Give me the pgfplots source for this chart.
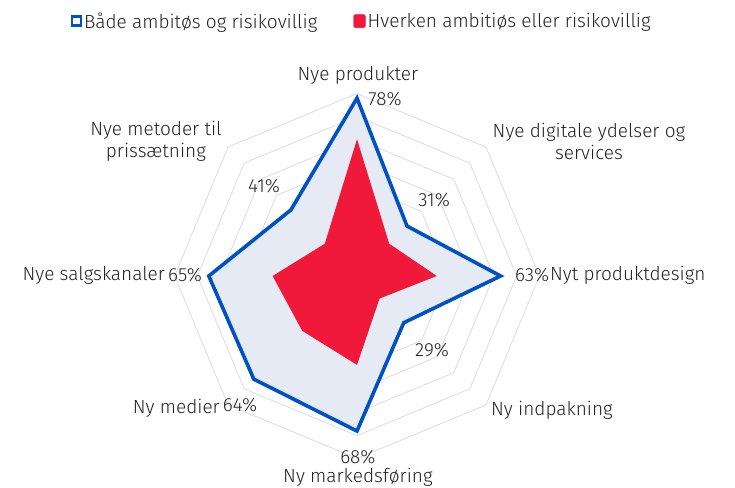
\documentclass[border=0pt]{standalone}
\usepackage{pgfplots}
\pgfplotsset{compat=1.18}
\usepgfplotslibrary{polar}
\usepackage{fontspec}
\setmainfont{Fira Sans Light}
\definecolor{bl}{HTML}{0052C4}
\definecolor{rd}{HTML}{F0193A}
\definecolor{fillb}{HTML}{E6EAF4}
\definecolor{grd}{HTML}{DCDCDC}
\definecolor{txt}{HTML}{222222}
\begin{document}
\begin{tikzpicture}[font=\fontsize{19}{22}\selectfont]
\begin{axis}[
  x=2.28pt, y=2.28pt,
  xmin=-156.58, xmax=165.79, ymin=-92.98, ymax=121.05,
  hide axis, clip=false,
  legend columns=2,
  legend style={at={(axis cs:2,111.8)}, anchor=center, draw=none, fill=none,
    font=\fontsize{19}{19}\selectfont, text=txt, cells={anchor=west},
    /tikz/every even column/.append style={column sep=34pt}},
]
\path (rel axis cs:0,0) rectangle (rel axis cs:1,1);
% octagonal grid rings
\pgfplotsinvokeforeach{10,20,30,40,50,60,70,80}{
  \addplot[grd, line width=0.8pt, data cs=polar, forget plot] coordinates
    {(90,#1) (45,#1) (0,#1) (-45,#1) (-90,#1) (-135,#1) (180,#1) (135,#1)} --cycle;
}
% Både ambitiøs og risikovillig
\addplot[bl, line width=3.6pt, fill=fillb, data cs=polar, forget plot] coordinates
  {(90,78) (45,31) (0,63) (-45,29) (-90,68) (-135,64) (180,65) (135,41)} --cycle;
% Hverken ambitiøs eller risikovillig
\addplot[draw=none, fill=rd, data cs=polar, forget plot] coordinates
  {(90,60) (45,20) (0,35) (-45,14) (-90,39) (-135,34) (180,37) (135,20)} --cycle;

\addlegendimage{legend image code/.code={\draw[bl, line width=2.5pt, fill=white] (0pt,-4.5pt) rectangle (9pt,4.5pt);}}
\addlegendentry{Både ambitøs og risikovillig}
\addlegendimage{legend image code/.code={\fill[rd, rounded corners=1.5pt] (0pt,-6.5pt) rectangle (12pt,6.5pt);}}
\addlegendentry{Hverken ambitiøs eller risikovillig}

% category labels
\node[text=txt] at (axis cs:0.4,88.0) {Nye produkter};
\node[text=txt, align=center] at (axis cs:101.75,59.2) {Nye digitale ydelser og\\services};
\node[text=txt, anchor=west, inner sep=0pt] at (axis cs:84.6,0.4) {Nyt produktdesign};
\node[text=txt] at (axis cs:85.5,-58.8) {Ny indpakning};
\node[text=txt, inner sep=0pt] at (axis cs:0.4,-88.2) {Ny markedsføring};
\node[text=txt, anchor=east, inner sep=0pt] at (axis cs:-60.1,-57.9) {Ny medier};
\node[text=txt, anchor=east, inner sep=0pt] at (axis cs:-84.2,0.4) {Nye salgskanaler};
\node[text=txt, align=center] at (axis cs:-88.2,59.2) {Nye metoder til\\prissætning};
% value labels
\node[text=txt] at (axis cs:12.3,77.6) {78\%};
\node[text=txt] at (axis cs:33.8,33.3) {31\%};
\node[text=txt, anchor=west, inner sep=0pt] at (axis cs:69.3,0.4) {63\%};
\node[text=txt] at (axis cs:32.9,-32.5) {29\%};
\node[text=txt, inner sep=0pt] at (axis cs:0.4,-79.4) {68\%};
\node[text=txt] at (axis cs:-51.3,-56.6) {64\%};
\node[text=txt] at (axis cs:-75.4,0.4) {65\%};
\node[text=txt] at (axis cs:-40.8,39.5) {41\%};
\end{axis}
\end{tikzpicture}
\end{document}
